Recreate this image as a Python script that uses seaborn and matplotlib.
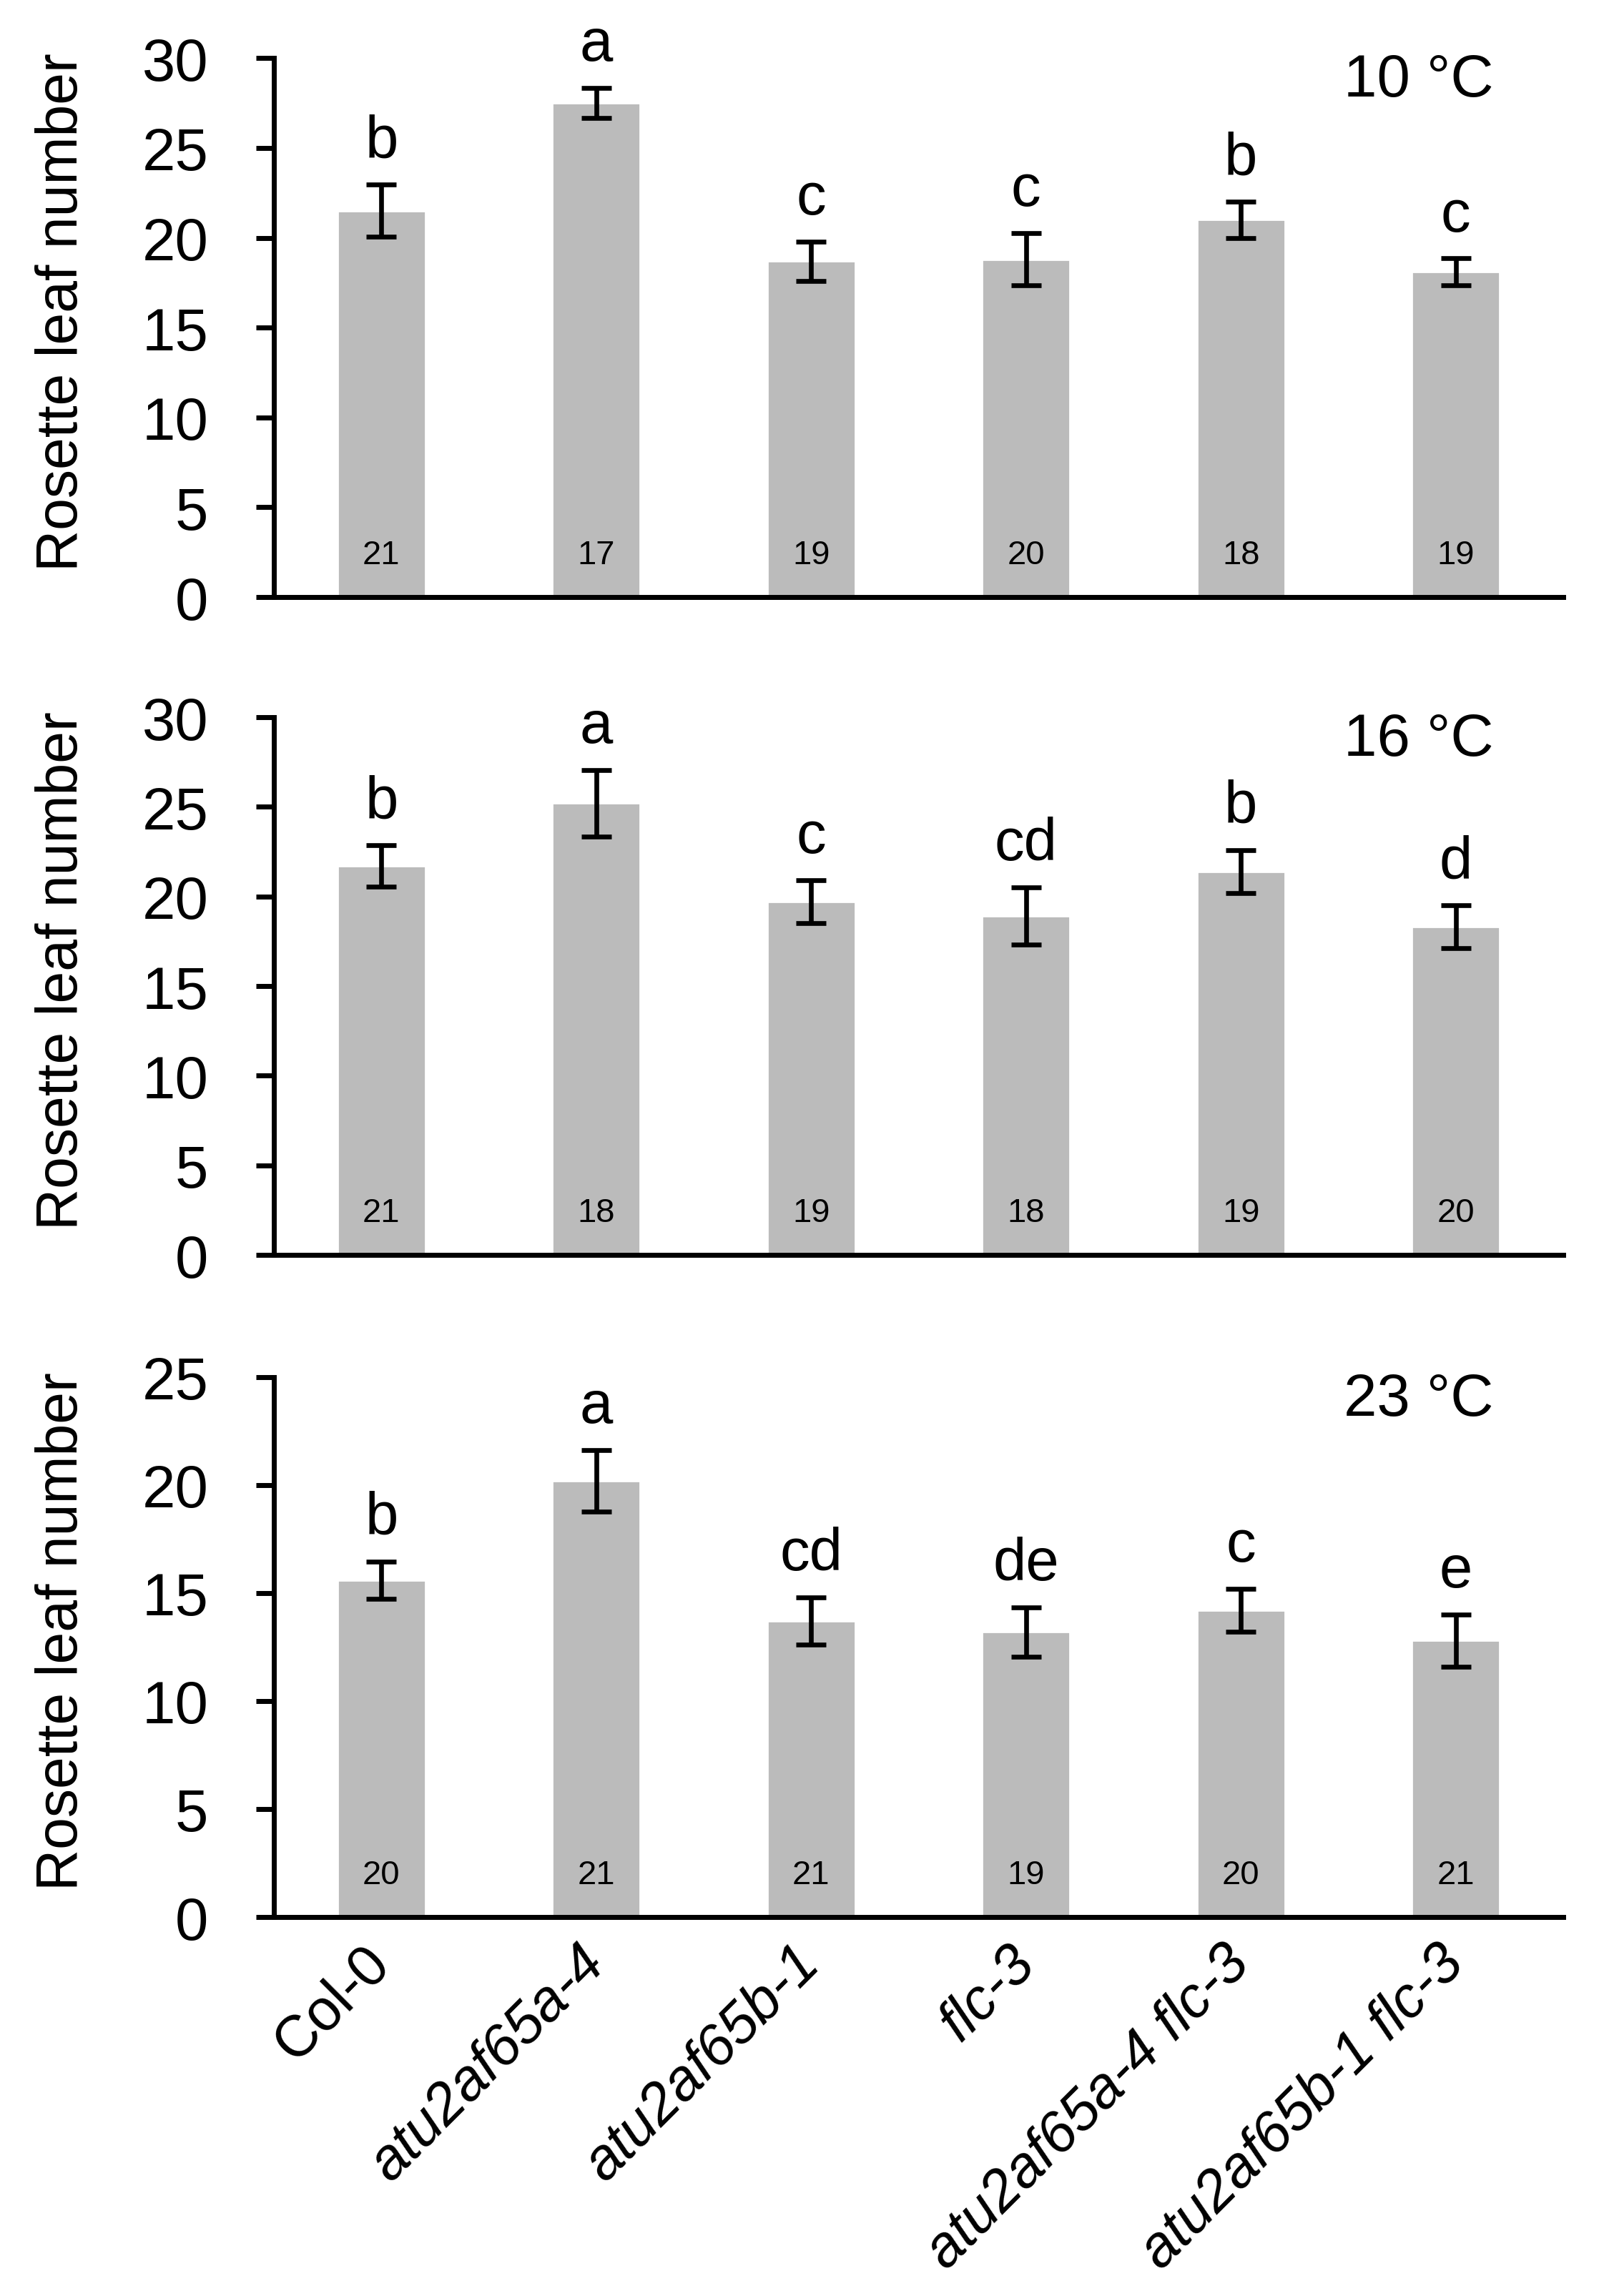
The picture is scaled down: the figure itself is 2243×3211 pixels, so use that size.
import numpy as np
import matplotlib
matplotlib.use("Agg")
import matplotlib.pyplot as plt
import seaborn as sns
import pandas as pd

genotypes = ["Col-0", "atu2af65a-4", "atu2af65b-1", "flc-3",
             "atu2af65a-4 flc-3", "atu2af65b-1 flc-3"]
italic = [False, True, True, True, True, True]

temps = ["10 °C", "16 °C", "23 °C"]

mean_10 = [21.5, 27.5, 18.7, 18.8, 21.0, 18.1]
sd_10 = [1.45, 0.85, 1.1, 1.45, 1.0, 0.75]
n_10 = [21, 17, 19, 20, 18, 19]
letters_10 = ["b", "a", "c", "c", "b", "c"]

mean_16 = [21.7, 25.2, 19.7, 18.9, 21.4, 18.3]
sd_16 = [1.15, 1.85, 1.2, 1.6, 1.2, 1.2]
n_16 = [21, 18, 19, 18, 19, 20]
letters_16 = ["b", "a", "c", "cd", "b", "d"]

mean_23 = [15.6, 20.2, 13.7, 13.2, 14.2, 12.8]
sd_23 = [0.87, 1.42, 1.1, 1.15, 1.0, 1.2]
n_23 = [20, 21, 21, 19, 20, 21]
letters_23 = ["b", "a", "cd", "de", "c", "e"]

ymax = [30, 30, 25]

sns.set_style("ticks")
plt.rcParams["font.family"] = ["Liberation Sans", "DejaVu Sans"]
for key in ["text.color", "axes.labelcolor", "xtick.color", "ytick.color",
            "axes.edgecolor"]:
    plt.rcParams[key] = "black"

fig = plt.figure(figsize=(11.215, 16.06), dpi=200)
bottoms = [0.7397, 0.4533, 0.1650]
heights = [0.2347, 0.2341, 0.2351]

panels = [(mean_10, sd_10, n_10, letters_10),
          (mean_16, sd_16, n_16, letters_16),
          (mean_23, sd_23, n_23, letters_23)]

for i, (mean, sd, n, letters) in enumerate(panels):
    ax = fig.add_axes([0.1708, bottoms[i], 0.8038, heights[i]])
    df = pd.DataFrame({"genotype": genotypes, "leaves": mean})
    sns.barplot(data=df, x="genotype", y="leaves", color="#bbbbbb",
                saturation=1, width=0.41, errorbar=None, ax=ax)
    ax.errorbar(np.arange(len(genotypes)), mean, yerr=sd, fmt="none",
                ecolor="black", elinewidth=2.4, capsize=7.5, capthick=2.4)
    ax.set_xlim(-0.5, 5.5)
    ax.set_ylim(0, ymax[i])
    ax.set_yticks(np.arange(0, ymax[i] + 1, 5))
    sns.despine(ax=ax)
    for side in ["left", "bottom"]:
        ax.spines[side].set_linewidth(2.5)
    ax.tick_params(axis="y", length=9, width=2.5, labelsize=30, pad=24)
    ax.tick_params(axis="x", length=0)
    ax.set_ylabel("Rosette leaf number", fontsize=29)
    ax.yaxis.set_label_coords(-0.143, 0.53)
    ax.set_xlabel("")

    for j in range(len(genotypes)):
        ax.annotate(letters[j], (j, mean[j] + sd[j]), xytext=(0, 14),
                    textcoords="offset points", ha="center", va="baseline",
                    fontsize=30)
        ax.annotate(str(n[j]), (j, 0), xytext=(0, 17),
                    textcoords="offset points", ha="center", va="baseline",
                    fontsize=17)
    ax.text(0.946, 0.93, temps[i], transform=ax.transAxes, ha="right",
            va="baseline", fontsize=30)

    if i < 2:
        ax.set_xticklabels([])
    else:
        ax.set_xticks(np.arange(len(genotypes)))
        ax.set_xticklabels(genotypes, rotation=45, ha="right",
                           rotation_mode="anchor", va="center", fontsize=29)
        ax.tick_params(axis="x", pad=19)
        for lab, it in zip(ax.get_xticklabels(), italic):
            if it:
                lab.set_style("italic")

fig.savefig("out.png", dpi=200)
